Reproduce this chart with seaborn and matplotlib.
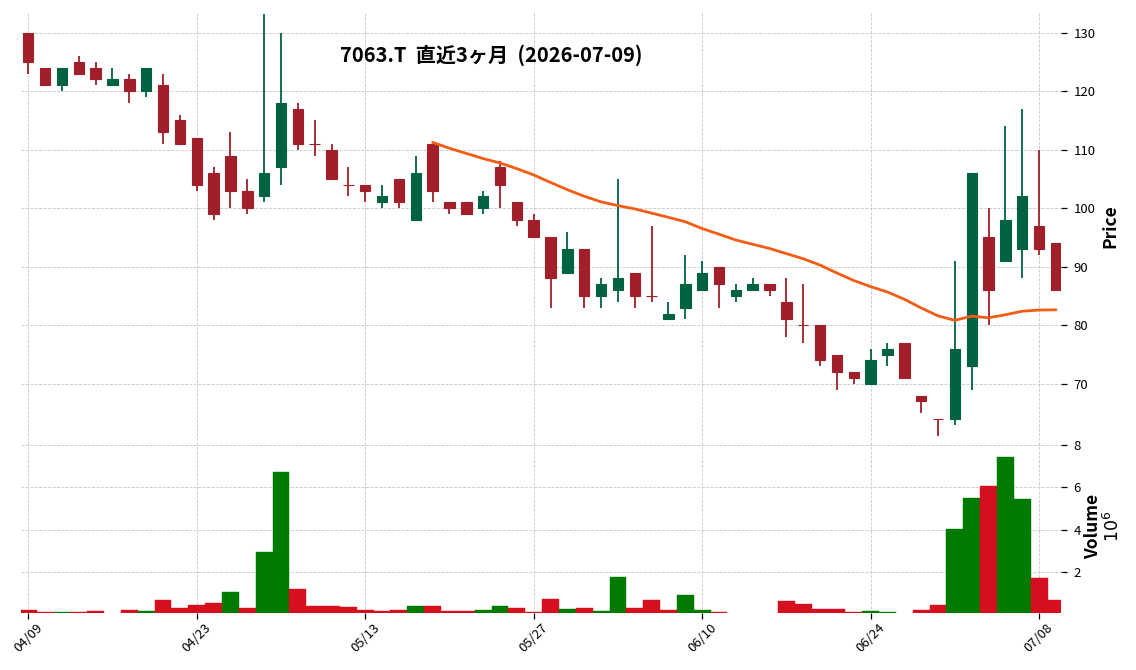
import numpy as np
import pandas as pd
import seaborn as sns
import matplotlib.pyplot as plt

# daily OHLC (trading-day index 0 = 04/09, 61 = 07/09)
opens = [130, 124, 121, 125, 124, 121, 122, 120, 121, 115,
         112, 106, 109, 103, 102, 107, 117, 111, 110, 104,
         104, 101, 105, 98, 111, 101, 101, 100, 107, 101,
         98, 95, 89, 93, 85, 86, 89, 85, 81, 83,
         86, 90, 85, 86, 87, 84, 80, 80, 75, 72,
         70, 75, 77, 68, 64, 64, 73, 95, 91, 93,
         97, 94]
highs = [130, 124, 124, 126, 125, 124, 123, 124, 123, 116,
         112, 107, 113, 105, 133.2, 130, 118, 115, 111, 107,
         104, 104, 105, 109, 111, 101, 101, 103, 108, 101,
         99, 95, 96, 93, 88, 105, 89, 97, 84, 92,
         91, 90, 87, 88, 87, 88, 87, 80, 75, 72,
         76, 77, 77, 68, 64, 91, 106, 100, 114, 117,
         110, 94]
lows = [123, 121, 120, 123, 121, 121, 118, 119, 111, 111,
        103, 98, 100, 99, 101, 104, 110, 109, 105, 102,
        101, 100, 100, 98, 101, 99, 99, 99, 100, 97,
        95, 83, 89, 83, 83, 84, 83, 84, 81, 81,
        86, 83, 84, 86, 85, 78, 77, 73, 69, 70,
        70, 73, 71, 65, 61, 63, 69, 80, 91, 88,
        92, 86]
closes = [125, 121, 124, 123, 122, 122, 120, 124, 113, 111,
          104, 99, 103, 100, 106, 118, 111, 111, 105, 104,
          103, 102, 101, 106, 103, 100, 99, 102, 104, 98,
          95, 88, 93, 85, 87, 88, 85, 85, 82, 87,
          89, 87, 86, 87, 86, 81, 80, 74, 72, 71,
          74, 76, 71, 67, 64, 76, 106, 86, 98, 102,
          93, 86]
# volume in millions of shares
volumes = [0.22, 0.13, 0.13, 0.13, 0.18, 0, 0.22, 0.18, 0.70, 0.32,
           0.46, 0.55, 1.07, 0.32, 2.96, 6.73, 1.21, 0.41, 0.41, 0.37,
           0.22, 0.18, 0.22, 0.41, 0.41, 0.18, 0.18, 0.22, 0.41, 0.32,
           0.13, 0.74, 0.27, 0.32, 0.18, 1.78, 0.32, 0.70, 0.22, 0.93,
           0.22, 0.13, 0, 0, 0, 0.65, 0.51, 0.27, 0.27, 0.13,
           0.18, 0.13, 0, 0.22, 0.47, 4.04, 5.50, 6.07, 7.43, 5.45,
           1.75, 0.70]
tick_labels = ['04/09', '04/23', '05/13', '05/27', '06/10', '06/24', '07/08']
title = '7063.T  直近3ヶ月  (2026-07-09)'

df = pd.DataFrame({'open': opens, 'high': highs, 'low': lows,
                   'close': closes, 'volume': volumes})
df['idx'] = np.arange(len(df))
df['ma25'] = df['close'].rolling(25).mean()

up_c, down_c = '#006340', '#a01f2a'
vol_up, vol_down = '#007a00', '#d50f1e'
candle_col = np.where(df['close'] > df['open'], up_c, down_c)
vol_col = np.where(df['close'] > df['close'].shift(1), vol_up, vol_down)

sns.set_theme(style="whitegrid")
plt.rcParams['font.family'] = ['Noto Sans CJK JP', 'DejaVu Sans']

fig = plt.figure(figsize=(11.36, 6.70), dpi=100)
ax = fig.add_axes([0.0185, 0.3433, 0.9155, 0.6395])
axv = fig.add_axes([0.0185, 0.0855, 0.9155, 0.2578], sharex=ax)

# candles
ax.vlines(df['idx'], df['low'], df['high'], colors=candle_col, lw=1.3, zorder=2)
body_lo = np.minimum(df['open'], df['close'])
body_h = (df['close'] - df['open']).abs()
ax.bar(df['idx'], body_h, bottom=body_lo, width=0.62, color=candle_col,
       edgecolor=candle_col, linewidth=0.8, zorder=3)

# 25-day moving average
ma = df.dropna(subset=['ma25'])
sns.lineplot(x=ma['idx'], y=ma['ma25'], ax=ax, color='#f25c14', lw=2, zorder=4)

# volume
axv.bar(df['idx'], df['volume'], width=1.0, color=vol_col,
        edgecolor=vol_col, linewidth=0.3, zorder=2)

ax.set_xlim(-0.43, 61.3)
ax.set_ylim(60.4, 133.6)
axv.set_ylim(0.094, 8.24)

for a in (ax, axv):
    a.set_facecolor('white')
    for s in a.spines.values():
        s.set_visible(False)
    a.grid(True, ls='--', color='#c8c8c8', lw=0.6)
    a.yaxis.tick_right()
    a.yaxis.set_label_position('right')
    a.tick_params(axis='y', right=True, length=4, width=0.9, color='black',
                  pad=5, labelsize=9.5, labelcolor='black')
    a.set_xlabel('')

ax.set_yticks(range(70, 131, 10))
axv.set_yticks([2, 4, 6, 8])
axv.set_xticks(range(0, 61, 10))
axv.set_xticklabels(tick_labels, rotation=45, ha='center')
axv.tick_params(axis='x', bottom=True, length=4, width=0.9, color='black',
                labelsize=9.5, labelcolor='black', pad=2)
ax.tick_params(axis='x', bottom=False, labelbottom=False)

ax.set_ylabel('Price', fontsize=12.5, fontweight='bold', labelpad=4, color='black')
axv.set_ylabel('Volume\n$10^{6}$', fontsize=12.5, fontweight='bold', labelpad=2,
               color='black', linespacing=1.1)

fig.text(0.432, 0.918, title, ha='center', va='center', fontsize=14.5,
         fontweight='bold', color='black')

fig.savefig('out.png', dpi=100)
